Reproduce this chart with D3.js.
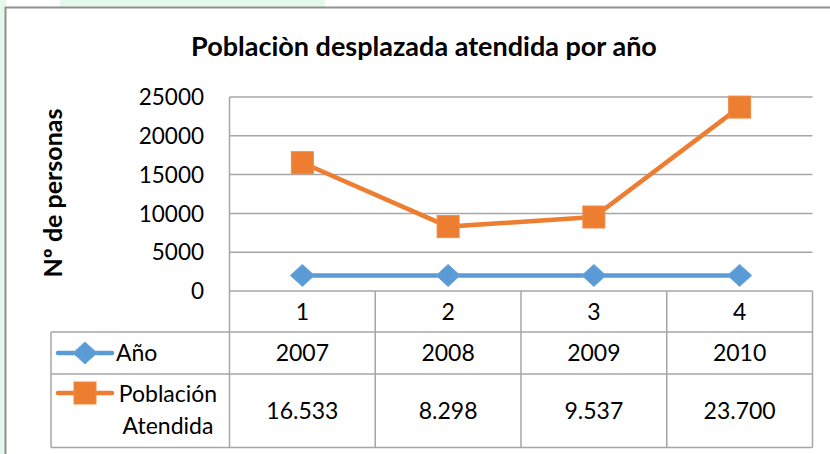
<!DOCTYPE html>
<html>
<head>
<meta charset="utf-8">
<script src="https://cdn.jsdelivr.net/npm/d3@7"></script>
<style>
  body { margin: 0; background: #fff; }
  text { font-family: Lato, "Open Sans", sans-serif; fill: #000; }
</style>
</head>
<body>
<svg id="chart" width="830" height="454"></svg>
<script>
// chart data
var categories = ['1', '2', '3', '4'];
var anios = [2007, 2008, 2009, 2010];
var atendida = [16533, 8298, 9537, 23700];
var atendidaLabels = ['16.533', '8.298', '9.537', '23.700'];
var yTicks = [0, 5000, 10000, 15000, 20000, 25000];
var seriesNames = ['Año', 'Población\nAtendida'];

var W = 830, H = 454;
var svg = d3.select('#chart');
var grid = '#a6a6a6';
var blue = '#5b9bd5', orange = '#ed7d31';
var fs = '23px';

// page background bits (green tint from the document behind)
svg.append('rect').attr('x', 0).attr('y', 0).attr('width', W).attr('height', H).attr('fill', '#fff');
svg.append('rect').attr('x', 0).attr('y', 0).attr('width', 6).attr('height', H).attr('fill', '#e6f7ec');
svg.append('rect').attr('x', 60).attr('y', 0).attr('width', 265).attr('height', 7).attr('fill', '#e6f7ec');

// outer chart frame (runs off right/bottom)
svg.append('rect')
  .attr('x', 5.5).attr('y', 7.5).attr('width', 900).attr('height', 600)
  .attr('fill', '#fff').attr('stroke', '#8f8f8f').attr('stroke-width', 2);

var plot = { left: 229.5, right: 812.5, top: 97, bottom: 291 };
var x = d3.scaleBand().domain(categories).range([plot.left, plot.right]);
var y = d3.scaleLinear().domain([0, 25000]).range([plot.bottom, plot.top]);

// title
svg.append('text')
  .attr('x', 424).attr('y', 56)
  .attr('text-anchor', 'middle')
  .style('font-weight', 'bold').style('font-size', '27px')
  .text('Poblaciòn desplazada atendida por año');

// y axis title
svg.append('text')
  .attr('transform', 'translate(62,193) rotate(-90)')
  .attr('text-anchor', 'middle')
  .style('font-weight', 'bold').style('font-size', '25px')
  .text('Nº de personas');

// gridlines
svg.append('g').selectAll('line').data(yTicks.filter(function(d) { return d > 0; }))
  .join('line')
  .attr('x1', plot.left).attr('x2', plot.right)
  .attr('y1', function(d) { return y(d); }).attr('y2', function(d) { return y(d); })
  .attr('stroke', grid).attr('stroke-width', 1.5);

// y tick labels
svg.append('g').selectAll('text').data(yTicks)
  .join('text')
  .attr('x', 204).attr('y', function(d) { return y(d); })
  .attr('dy', '0.36em')
  .attr('text-anchor', 'end')
  .style('font-size', '22.5px')
  .text(function(d) { return d; });

// data table
var rows = { headTop: 291, r1: 332, r2: 374, bottom: 447.5 };
var legLeft = 51;
var tbl = svg.append('g').attr('stroke', grid).attr('stroke-width', 1.5).attr('fill', 'none');
// vertical axis line + column lines
tbl.append('line').attr('x1', plot.left).attr('x2', plot.left).attr('y1', plot.top).attr('y2', rows.bottom);
categories.forEach(function(c) {
  var xr = x(c) + x.bandwidth();
  tbl.append('line').attr('x1', xr).attr('x2', xr).attr('y1', rows.headTop).attr('y2', rows.bottom);
});
tbl.append('line').attr('x1', legLeft).attr('x2', legLeft).attr('y1', rows.r1).attr('y2', rows.bottom);
// horizontal lines
tbl.append('line').attr('x1', plot.left).attr('x2', plot.right).attr('y1', rows.headTop).attr('y2', rows.headTop);
[rows.r1, rows.r2, rows.bottom].forEach(function(yy) {
  tbl.append('line').attr('x1', legLeft).attr('x2', plot.right).attr('y1', yy).attr('y2', yy);
});

function cx(c) { return x(c) + x.bandwidth() / 2; }

svg.append('g').selectAll('text').data(categories).join('text')
  .attr('x', cx).attr('y', (rows.headTop + rows.r1) / 2).attr('dy', '0.36em')
  .attr('text-anchor', 'middle').style('font-size', fs)
  .text(function(d) { return d; });
svg.append('g').selectAll('text').data(anios).join('text')
  .attr('x', function(d, i) { return cx(categories[i]); })
  .attr('y', (rows.r1 + rows.r2) / 2).attr('dy', '0.36em')
  .attr('text-anchor', 'middle').style('font-size', fs)
  .text(function(d) { return d; });
svg.append('g').selectAll('text').data(atendidaLabels).join('text')
  .attr('x', function(d, i) { return cx(categories[i]); })
  .attr('y', (rows.r2 + rows.bottom) / 2).attr('dy', '0.36em')
  .attr('text-anchor', 'middle').style('font-size', fs)
  .text(function(d) { return d; });

// markers
function diamond(g, px, py, color) {
  g.append('path')
    .attr('d', 'M' + px + ',' + (py - 11) + 'L' + (px + 12) + ',' + py + 'L' + px + ',' + (py + 11) + 'L' + (px - 12) + ',' + py + 'Z')
    .attr('fill', color).attr('stroke', '#6aa7dc').attr('stroke-width', 1);
}
function square(g, px, py, color) {
  g.append('rect')
    .attr('x', px - 11).attr('y', py - 11).attr('width', 22).attr('height', 22)
    .attr('fill', color).attr('stroke', '#f08a45').attr('stroke-width', 1);
}

// legend keys inside table
var keyY1 = (rows.r1 + rows.r2) / 2, keyY2 = 393;
var lg = svg.append('g');
lg.append('line').attr('x1', 58).attr('x2', 112).attr('y1', keyY1).attr('y2', keyY1)
  .attr('stroke', blue).attr('stroke-width', 4.5).attr('stroke-linecap', 'round');
diamond(lg, 85, keyY1, blue);
lg.append('line').attr('x1', 58).attr('x2', 112).attr('y1', keyY2).attr('y2', keyY2)
  .attr('stroke', orange).attr('stroke-width', 4.5).attr('stroke-linecap', 'round');
square(lg, 85, keyY2, orange);
lg.append('text').attr('x', 116).attr('y', keyY1).attr('dy', '0.36em')
  .style('font-size', fs).text(seriesNames[0]);
var nm = seriesNames[1].split('\n');
lg.append('text').attr('x', 168).attr('y', 402).attr('text-anchor', 'middle')
  .style('font-size', fs).text(nm[0]);
lg.append('text').attr('x', 168).attr('y', 434).attr('text-anchor', 'middle')
  .style('font-size', fs).text(nm[1]);

// series lines
var line = d3.line()
  .x(function(d, i) { return cx(categories[i]); })
  .y(function(d) { return y(d); });

var sg = svg.append('g');
sg.append('path').datum(anios).attr('d', line)
  .attr('fill', 'none').attr('stroke', blue).attr('stroke-width', 4.5);
anios.forEach(function(d, i) { diamond(sg, cx(categories[i]), y(d), blue); });
sg.append('path').datum(atendida).attr('d', line)
  .attr('fill', 'none').attr('stroke', orange).attr('stroke-width', 4.5);
atendida.forEach(function(d, i) { square(sg, cx(categories[i]), y(d), orange); });
</script>
</body>
</html>
